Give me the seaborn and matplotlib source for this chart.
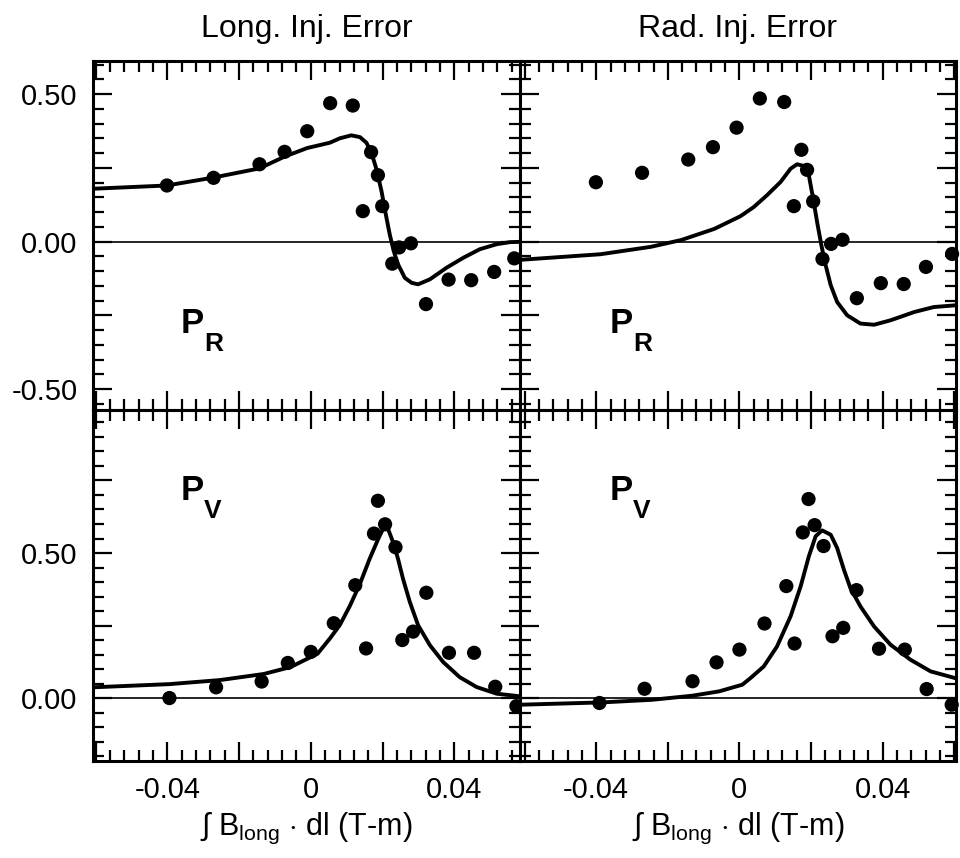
import matplotlib
matplotlib.use("Agg")
import matplotlib.pyplot as plt
from matplotlib.ticker import MultipleLocator, FuncFormatter
import seaborn as sns

# column titles / panel labels
col_titles = ["Long. Inj. Error", "Rad. Inj. Error"]
row_labels = [("P", "R"), ("P", "V")]

# P_R, longitudinal injection error
pr_long_pts_x = [-0.0401, -0.0271, -0.0143, -0.0073, -0.0010, 0.0054, 0.0117, 0.0145, 0.0168, 0.0187,
                 0.0199, 0.0227, 0.0246, 0.0279, 0.0321, 0.0384, 0.0447, 0.0511, 0.0567]
pr_long_pts_y = [0.190, 0.216, 0.262, 0.304, 0.374, 0.469, 0.461, 0.103, 0.303, 0.225,
                 0.120, -0.075, -0.020, -0.006, -0.212, -0.129, -0.131, -0.103, -0.057]
pr_long_fit_x = [-0.0607, -0.0401, -0.0271, -0.0143, -0.0073, -0.0010, 0.0053, 0.0081, 0.0113, 0.0137,
                 0.0155, 0.0169, 0.0183, 0.0197, 0.0209, 0.0220, 0.0231, 0.0243, 0.0262, 0.0281,
                 0.0299, 0.0332, 0.0378, 0.0425, 0.0471, 0.0518, 0.0555, 0.0583]
pr_long_fit_y = [0.179, 0.190, 0.217, 0.248, 0.288, 0.317, 0.335, 0.350, 0.360, 0.354,
                 0.335, 0.301, 0.245, 0.171, 0.092, 0.024, -0.032, -0.077, -0.123, -0.140,
                 -0.145, -0.128, -0.089, -0.055, -0.026, -0.009, -0.002, -0.001]

# P_R, radial injection error
pr_rad_pts_x = [-0.0401, -0.0272, -0.0143, -0.0074, -0.0008, 0.0057, 0.0125, 0.0152, 0.0173, 0.0189,
                0.0206, 0.0232, 0.0256, 0.0288, 0.0328, 0.0395, 0.0459, 0.0521, 0.0594]
pr_rad_pts_y = [0.201, 0.233, 0.278, 0.320, 0.386, 0.485, 0.473, 0.120, 0.311, 0.243,
                0.136, -0.059, -0.008, 0.006, -0.192, -0.141, -0.144, -0.086, -0.042]
pr_rad_fit_x = [-0.0613, -0.0388, -0.0248, -0.0163, -0.0070, -0.0014, 0.0003, 0.0040, 0.0077, 0.0115,
                0.0143, 0.0161, 0.0180, 0.0194, 0.0206, 0.0217, 0.0229, 0.0241, 0.0255, 0.0273,
                0.0301, 0.0338, 0.0376, 0.0422, 0.0488, 0.0543, 0.0605]
pr_rad_fit_y = [-0.062, -0.043, -0.018, 0.005, 0.043, 0.076, 0.086, 0.117, 0.157, 0.202,
                0.247, 0.262, 0.256, 0.224, 0.145, 0.066, -0.013, -0.081, -0.148, -0.205,
                -0.250, -0.278, -0.282, -0.267, -0.239, -0.222, -0.216]

# P_V, longitudinal injection error
pv_long_pts_x = [-0.0394, -0.0264, -0.0137, -0.0064, 0.0000, 0.0064, 0.0124, 0.0154, 0.0187, 0.0176,
                 0.0207, 0.0236, 0.0255, 0.0285, 0.0322, 0.0385, 0.0455, 0.0514, 0.0573]
pv_long_pts_y = [0.000, 0.037, 0.057, 0.121, 0.159, 0.258, 0.389, 0.171, 0.680, 0.567,
                 0.599, 0.520, 0.200, 0.229, 0.363, 0.156, 0.156, 0.039, -0.028]
pv_long_fit_x = [-0.0607, -0.0394, -0.0253, -0.0131, -0.0056, 0.0019, 0.0053, 0.0081, 0.0109, 0.0137,
                 0.0164, 0.0188, 0.0204, 0.0215, 0.0229, 0.0243, 0.0257, 0.0276, 0.0299, 0.0332,
                 0.0369, 0.0415, 0.0462, 0.0518, 0.0583]
pv_long_fit_y = [0.037, 0.048, 0.062, 0.083, 0.107, 0.153, 0.205, 0.252, 0.318, 0.394,
                 0.480, 0.549, 0.590, 0.584, 0.538, 0.480, 0.411, 0.331, 0.251, 0.182,
                 0.124, 0.072, 0.038, 0.015, 0.006]

# P_V, radial injection error
pv_rad_pts_x = [-0.0391, -0.0265, -0.0131, -0.0064, 0.0000, 0.0070, 0.0131, 0.0154, 0.0193, 0.0177,
                0.0210, 0.0235, 0.0260, 0.0290, 0.0327, 0.0390, 0.0462, 0.0523, 0.0593]
pv_rad_pts_y = [-0.017, 0.032, 0.058, 0.123, 0.167, 0.257, 0.386, 0.188, 0.686, 0.571,
                0.596, 0.524, 0.213, 0.242, 0.372, 0.170, 0.167, 0.031, -0.023]
pv_rad_fit_x = [-0.0613, -0.0384, -0.0244, -0.0132, -0.0057, 0.0008, 0.0031, 0.0068, 0.0105, 0.0143,
                0.0171, 0.0194, 0.0213, 0.0231, 0.0255, 0.0273, 0.0292, 0.0310, 0.0338, 0.0376,
                0.0422, 0.0478, 0.0534, 0.0605]
pv_rad_fit_y = [-0.023, -0.015, -0.006, 0.008, 0.023, 0.046, 0.069, 0.109, 0.178, 0.282,
                0.385, 0.489, 0.558, 0.578, 0.563, 0.517, 0.442, 0.379, 0.316, 0.247,
                0.184, 0.132, 0.092, 0.068]

x_limits = [(-0.0607, 0.0583), (-0.0613, 0.0605)]
y_limits = [(-0.571, 0.612), (-0.217, 0.993)]

panels = [
    [(pr_long_pts_x, pr_long_pts_y, pr_long_fit_x, pr_long_fit_y),
     (pr_rad_pts_x, pr_rad_pts_y, pr_rad_fit_x, pr_rad_fit_y)],
    [(pv_long_pts_x, pv_long_pts_y, pv_long_fit_x, pv_long_fit_y),
     (pv_rad_pts_x, pv_rad_pts_y, pv_rad_fit_x, pv_rad_fit_y)],
]


def xfmt(v, pos):
    if abs(v / 0.04 - round(v / 0.04)) < 1e-6:
        return "0" if abs(v) < 1e-9 else f"{v:.2f}"
    return ""


def yfmt(v, pos):
    if abs(v / 0.5 - round(v / 0.5)) < 1e-6:
        return "0.00" if abs(v) < 1e-9 else f"{v:.2f}"
    return ""


sns.set_style("ticks")
plt.rcParams["font.family"] = ["Liberation Sans", "DejaVu Sans"]
plt.rcParams["mathtext.fontset"] = "custom"
plt.rcParams["mathtext.rm"] = "Liberation Sans"
plt.rcParams["axes.unicode_minus"] = False
for key in ["text.color", "axes.labelcolor", "xtick.color", "ytick.color", "axes.edgecolor"]:
    plt.rcParams[key] = "black"

fig = plt.figure(figsize=(9.6, 8.58), dpi=100)
W, H = 960.0, 858.0
col_px = [(93, 427), (520, 436)]
row_px = [(61, 349), (410, 351)]

for r in range(2):
    for c in range(2):
        left, width = col_px[c]
        top, height = row_px[r]
        ax = fig.add_axes([left / W, 1 - (top + height) / H, width / W, height / H])
        px, py, fx, fy = panels[r][c]

        ax.axhline(0, color="black", lw=1.2, zorder=1)
        sns.lineplot(x=fx, y=fy, ax=ax, color="black", lw=2.8, sort=False, estimator=None, zorder=2)
        sns.scatterplot(x=px, y=py, ax=ax, color="black", s=105, edgecolor="none",
                        zorder=3, clip_on=False)

        ax.set_xlim(*x_limits[c])
        ax.set_ylim(*y_limits[r])
        ax.xaxis.set_major_locator(MultipleLocator(0.02))
        ax.xaxis.set_minor_locator(MultipleLocator(0.004))
        ax.yaxis.set_major_locator(MultipleLocator(0.25))
        ax.yaxis.set_minor_locator(MultipleLocator(0.05))
        ax.xaxis.set_major_formatter(FuncFormatter(xfmt))
        ax.yaxis.set_major_formatter(FuncFormatter(yfmt))

        ax.tick_params(which="both", direction="in", top=True, right=True,
                       width=1.6, color="black", labelcolor="black", labelsize=21, pad=11)
        ax.tick_params(which="major", length=14)
        ax.tick_params(which="minor", length=8)
        for s in ax.spines.values():
            s.set_linewidth(2.2)
            s.set_color("black")

        if r == 0:
            ax.tick_params(labelbottom=False)
            ax.set_title(col_titles[c], fontsize=23, pad=17)
        else:
            ax.set_xlabel(r"$\int$ B$_{\mathrm{long}}$ $\cdot$ dl (T-m)", fontsize=22, labelpad=5)
        if c == 1:
            ax.tick_params(labelleft=False)
        ax.set_ylabel("")

        main, sub = row_labels[r]
        ly = 0.222 if r == 0 else 0.745
        ax.annotate(main, xy=(0.205, ly), xycoords="axes fraction", fontsize=25,
                    fontweight="bold", va="baseline")
        ax.annotate(sub, xy=(0.205, ly), xycoords="axes fraction", xytext=(17, -13.5),
                    textcoords="offset points", fontsize=19, fontweight="bold", va="baseline")

fig.savefig("out.png", dpi=100)
